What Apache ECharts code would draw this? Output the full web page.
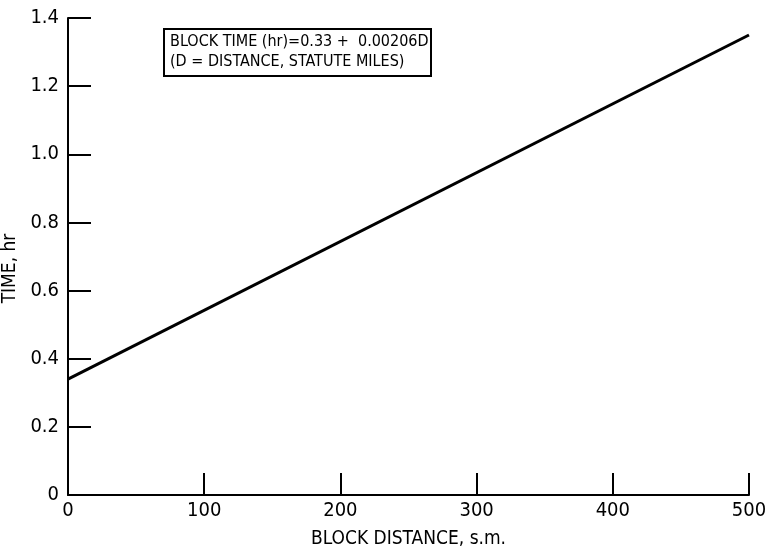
<!DOCTYPE html>
<html><head><meta charset="utf-8">
<script src="https://cdn.jsdelivr.net/npm/echarts@6/dist/echarts.min.js"></script>
<style>html,body{margin:0;padding:0;background:#fff}#c{width:770px;height:552px}</style>
</head><body><div id="c"></div>
<script>
const distance = [0, 500];
const blockTime = [0.34, 1.35];
const xTicks = [0, 100, 200, 300, 400, 500];
const yTicks = [0, 0.2, 0.4, 0.6, 0.8, 1.0, 1.2, 1.4];
const eqLine1 = 'BLOCK TIME (hr)=0.33 +  0.00206D';
const eqLine2 = '(D = DISTANCE, STATUTE MILES)';
const font = '"Liberation Sans Narrow", "DejaVu Sans Condensed", sans-serif';

const chart = echarts.init(document.getElementById('c'));
chart.setOption({
  animation: false,
  backgroundColor: '#fff',
  grid: { left: 68, right: 21, top: 18, bottom: 57, containLabel: false, outerBoundsMode: 'none' },
  xAxis: {
    type: 'value', min: 0, max: 500, interval: 100,
    name: 'BLOCK DISTANCE, s.m.', nameLocation: 'middle', nameGap: 35,
    nameTextStyle: { fontFamily: font, fontSize: 19, color: '#000' },
    axisLine: { lineStyle: { color: '#000', width: 2 } },
    axisTick: { inside: true, length: 22, lineStyle: { color: '#000', width: 2 } },
    axisLabel: { fontFamily: font, fontSize: 20, color: '#000', margin: 6,
      formatter: v => xTicks.includes(v) ? String(v) : '' },
    splitLine: { show: false }
  },
  yAxis: {
    type: 'value', min: 0, max: 1.4, interval: 0.2,
    name: 'TIME, hr', nameLocation: 'middle', nameGap: 41,
    nameTextStyle: { fontFamily: font, fontSize: 19, color: '#000', padding: [0, 24, 0, 0] },
    axisLine: { show: true, lineStyle: { color: '#000', width: 2 } },
    axisTick: { show: true, inside: true, length: 23, lineStyle: { color: '#000', width: 2 } },
    axisLabel: { fontFamily: font, fontSize: 20, color: '#000', margin: 9,
      formatter: v => { const t = yTicks.find(k => Math.abs(k - v) < 1e-9); return t === undefined ? '' : (t === 0 ? '0' : t.toFixed(1)); } },
    splitLine: { show: false }
  },
  graphic: [{
    type: 'group', left: 163, top: 28,
    children: [
      { type: 'rect', shape: { x: 0, y: 0, width: 267, height: 47 },
        style: { fill: '#fff', stroke: '#000', lineWidth: 2 } },
      { type: 'text', left: 6, top: 5, style: { text: eqLine1, font: '16px ' + font, fill: '#000' } },
      { type: 'text', left: 6, top: 25, style: { text: eqLine2, font: '16px ' + font, fill: '#000' } }
    ]
  }],
  series: [{
    type: 'line', data: distance.map((d, i) => [d, blockTime[i]]),
    symbol: 'none', lineStyle: { color: '#000', width: 3 }
  }]
});
</script></body></html>
